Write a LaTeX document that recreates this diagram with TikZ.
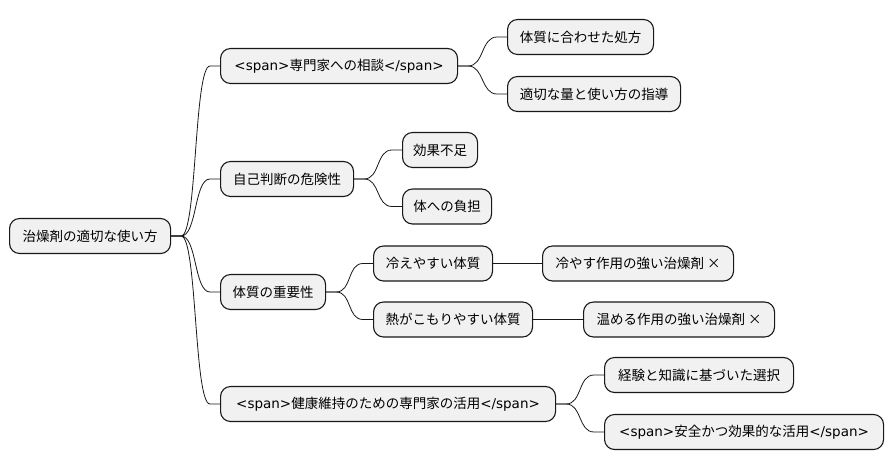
\documentclass[tikz,border=0pt]{standalone}
\usepackage{fontspec}
\setmainfont{Noto Sans CJK JP}
\newfontfamily\latinfont{DejaVu Sans}
\usetikzlibrary{positioning}

\definecolor{nodefill}{HTML}{F1F1F1}
\definecolor{nodeline}{HTML}{181818}

\tikzset{
    box/.style={draw=nodeline, fill=nodefill, line width=1.1pt, rounded corners=10pt,
                minimum height=35pt, inner sep=0pt, anchor=west, align=center},
    edge/.style={draw=nodeline, line width=0.8pt}
}

% 父节点 -> 子节点 的曲线
\newcommand{\branch}[2]{%
    \draw[edge] (#1.east) -- ++(10,0) .. controls +(16,0) and +(-16,0) .. ([xshift=-10pt]#2.west) -- (#2.west);}
% 标签中的西文部分
\newcommand{\lt}[1]{{\latinfont\fontsize{13.5}{16}\selectfont #1}}

\begin{document}
\begin{tikzpicture}[
                x=1pt, y=-1pt,
                font=\fontsize{13.5}{16}\selectfont
            ]
                \useasboundingbox (0,0) rectangle (894,471);

                % --- 根 ---
                \node[box, minimum width=161pt] (root) at (9,236) {治燥剤の適切な使い方};

                % --- 第一层 ---
                \node[box, minimum width=237pt] (advice) at (220,66) {\lt{<span>}専門家への相談\lt{</span>}};
                \node[box, minimum width=133pt] (selfjudge) at (220,179) {自己判断の危険性};
                \node[box, minimum width=105pt] (constitution) at (220,292) {体質の重要性};
                \node[box, minimum width=335pt] (expert) at (220,404) {\lt{<span>}健康維持のための専門家の活用\lt{</span>}};

                % --- 第二层 ---
                \node[box, minimum width=146pt] (advice1) at (507,37) {体質に合わせた処方};
                \node[box, minimum width=173pt] (advice2) at (507,94) {適切な量と使い方の指導};
                \node[box, minimum width=75pt] (risk1) at (402,150) {効果不足};
                \node[box, minimum width=89pt] (risk2) at (402,206.5) {体への負担};
                \node[box, minimum width=119pt] (cold) at (373,263.5) {冷えやすい体質};
                \node[box, minimum width=159pt] (hot) at (373,319.5) {熱がこもりやすい体質};
                \node[box, minimum width=189pt] (expert1) at (604,375) {経験と知識に基づいた選択};
                \node[box, minimum width=279pt] (expert2) at (604,432) {\lt{<span>}安全かつ効果的な活用\lt{</span>}};

                % --- 第三层 ---
                \node[box, minimum width=191pt] (coldx) at (542,263.5) {冷やす作用の強い治燥剤 ×};
                \node[box, minimum width=191pt] (hotx) at (583,319.5) {温める作用の強い治燥剤 ×};

                % --- 连线 ---
                \foreach \c in {advice, selfjudge, constitution, expert}
                    \branch{root}{\c};
                \branch{advice}{advice1}
                \branch{advice}{advice2}
                \branch{selfjudge}{risk1}
                \branch{selfjudge}{risk2}
                \branch{constitution}{cold}
                \branch{constitution}{hot}
                \branch{expert}{expert1}
                \branch{expert}{expert2}
                \draw[edge] (cold) -- (coldx);
                \draw[edge] (hot) -- (hotx);

            \end{tikzpicture}
\end{document}
